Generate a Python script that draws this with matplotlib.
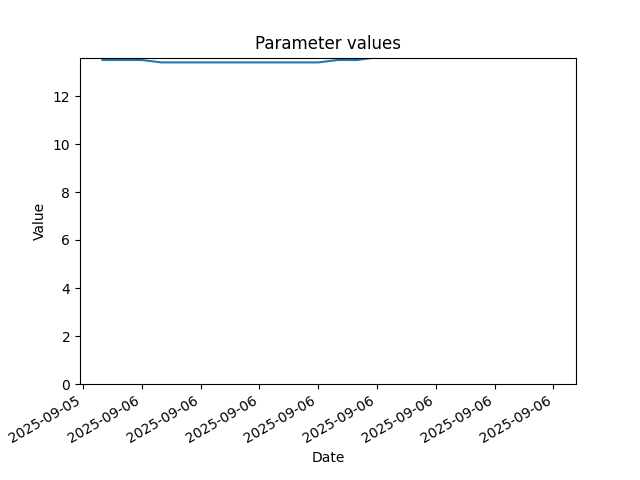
import pandas as pd
import matplotlib.pyplot as plt
import matplotlib.dates as mdates

# hourly readings, 2025-09-05 22:00 to 2025-09-06 21:00
dates = pd.date_range('2025-09-05 22:00', periods=24, freq='h')
values = [13.5, 13.5, 13.5, 13.4, 13.4, 13.4, 13.4, 13.4, 13.4, 13.4,
          13.4, 13.4, 13.5, 13.5, 13.62, 13.8, 13.9, 13.9, 14.0, 14.0,
          14.0, 13.9, 13.9, 13.8]

fig, ax = plt.subplots(figsize=(6.4, 4.8))
ax.plot(dates, values)

ax.xaxis.set_major_locator(mdates.HourLocator(byhour=range(0, 24, 3)))
ax.xaxis.set_major_formatter(mdates.DateFormatter('%Y-%m-%d'))
ax.set_ylim(0, 13.6)

# Label your axis
ax.set_xlabel('Date')
ax.set_ylabel('Value')
ax.set_title('Parameter values')
fig.autofmt_xdate()
plt.savefig('out.png', dpi=100)
